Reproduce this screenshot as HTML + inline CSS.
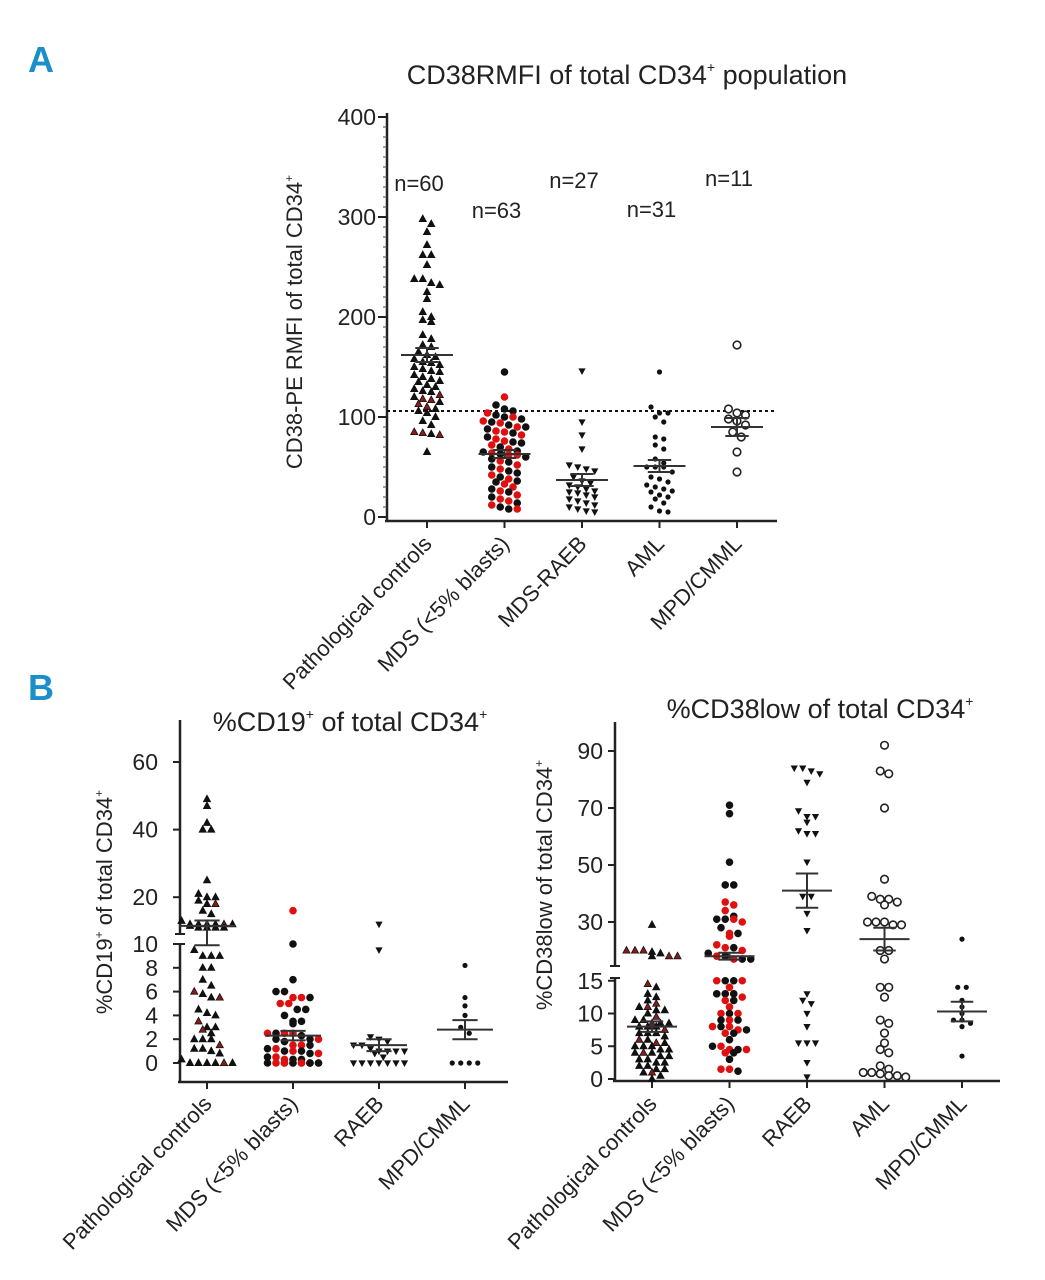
<!DOCTYPE html>
<html><head><meta charset="utf-8">
<style>
html,body{margin:0;padding:0;background:#fff;}
svg{display:block;font-family:"Liberation Sans Narrow","Liberation Sans",sans-serif;}
</style></head>
<body>
<svg id="fig" width="1045" height="1280" viewBox="0 0 1045 1280" xmlns="http://www.w3.org/2000/svg">
<text x="28" y="72" font-size="36" font-weight="bold" fill="#1a8fc9" font-family="Liberation Sans, sans-serif">A</text>
<text x="28" y="700" font-size="36" font-weight="bold" fill="#1a8fc9" font-family="Liberation Sans, sans-serif">B</text>
<text x="627" y="84" font-size="27" text-anchor="middle" fill="#222">CD38RMFI of total CD34<tspan font-size="14" dy="-12">+</tspan><tspan dy="12"> population</tspan></text>
<text x="350" y="731" font-size="27" text-anchor="middle" fill="#222">%CD19<tspan font-size="14" dy="-12">+</tspan><tspan dy="12"> of total CD34</tspan><tspan font-size="14" dy="-12">+</tspan></text>
<text x="820" y="718" font-size="27" text-anchor="middle" fill="#222">%CD38low of total CD34<tspan font-size="14" dy="-12">+</tspan></text>
<text transform="translate(302,322) rotate(-90)" font-size="22" text-anchor="middle" fill="#222">CD38-PE RMFI of total CD34<tspan font-size="12" dy="-9">+</tspan></text>
<text transform="translate(112,902) rotate(-90)" font-size="22" text-anchor="middle" fill="#222">%CD19<tspan font-size="12" dy="-9">+</tspan><tspan dy="9"> of total CD34</tspan><tspan font-size="12" dy="-9">+</tspan></text>
<text transform="translate(552,885) rotate(-90)" font-size="22" text-anchor="middle" fill="#222">%CD38low of total CD34<tspan font-size="12" dy="-9">+</tspan></text>
<g id="layer"></g>
</svg>
<script>
// ---------- Panel A data ----------
const catsA = ["Pathological controls","MDS (<5% blasts)","MDS-RAEB","AML","MPD/CMML"];
const nLabelsA = ["n=60","n=63","n=27","n=31","n=11"];
const ticksA = [0,100,200,300,400];
const cutoffA = 106;
const aPC = [298,293,285,272,262,262,252,238,238,234,232,225,218,205,200,197,195,182,178,172,170,165,162,160,158,155,154,152,150,148,146,145,142,140,138,136,135,132,130,128,126,125,122,120,118,117,115,113,110,108,106,104,100,96,92,85,84,83,82,65];
const aPCred = [0,0,0,0,0,0,0,0,0,0,0,0,0,0,0,0,0,0,0,0,0,0,0,0,0,0,0,0,0,0,0,0,0,0,0,0,0,0,0,0,0,0,1,0,1,1,0,1,1,0,0,0,0,0,0,1,1,0,1,0];
const aMDS = [145,120,112,108,106,104,102,100,100,98,96,95,94,92,90,90,88,86,85,84,82,80,78,76,75,74,72,70,68,66,65,64,63,62,62,60,58,56,55,52,50,48,46,44,42,40,38,36,35,33,30,28,26,25,22,20,18,16,14,12,10,8,8];
const aMDSred = [0,1,0,0,0,1,0,0,1,0,1,0,1,0,1,0,0,1,1,0,1,0,1,1,0,0,1,0,1,0,0,1,0,1,1,0,0,1,0,1,0,1,0,0,1,0,1,0,0,1,1,0,1,0,1,0,1,1,0,1,0,0,1];
const aRAEB = [146,95,82,68,52,50,48,46,40,36,34,32,30,28,26,25,24,22,20,18,16,14,12,10,8,6,5];
const aAML = [145,110,104,104,100,95,80,78,72,68,58,54,50,50,50,45,40,38,35,32,30,28,26,25,22,20,18,14,10,6,5];
const aMPD = [172,108,104,102,98,96,92,85,80,65,45];
const meanA = [162,63,37,51,90];
const semA = [7,4,6,6,9];

// ---------- Panel B1 data (%CD19+) ----------
const catsB1 = ["Pathological controls","MDS (<5% blasts)","RAEB","MPD/CMML"];
const ticksB1low = [0,2,4,6,8,10];
const ticksB1high = [20,40,60];
const b1PC = [49,47,42,40,40,25,21,20,20,19,18,18,16,15,13,12,12,12,12,12,12,11.5,11,11,11,11,9.5,9,9,9,8,8,7,6.5,6,5.8,5.5,5.5,4.5,4.2,4,3.5,3,3,2.8,2.5,2,2,2,1.5,1.2,1.2,1,0.8,0,0,0,0,0,0,0.3];
const b1PCred = [0,0,0,0,0,0,0,0,0,0,0,1,0,0,0,0,0,0,0,1,0,0,0,0,0,0,0,0,0,0,0,0,0,0,1,0,0,1,0,0,0,1,0,0,1,0,0,0,0,1,0,0,0,0,0,0,0,0,1,0,0];
const b1MDS = [16,10,7,6,6,5.5,5.5,5.5,5,5,4.5,4.5,4,3.5,3.5,3.3,2.5,2.5,2.5,2.5,2.3,2,2,2,1.8,1.5,1.5,1.5,1.2,1.2,1,1,1,0.8,0.8,0.5,0.5,0.3,0.3,0.3,0,0,0,0,0,0,0,0,0,0,0,0,0];
const b1MDSred = [1,0,0,0,0,1,1,0,1,1,0,0,0,0,0,0,1,0,1,1,0,0,1,0,0,1,1,0,0,1,0,1,0,0,1,0,1,1,0,0,1,1,0,1,0,1,1,0,0,1,0,1,0];
const b1RAEB = [12,9.5,2.2,2,1.8,1.5,1.5,1.2,1,1,1,1,0.8,0.5,0,0,0,0,0,0,0];
const b1MPD = [8.2,5.5,4.8,4,3,2.5,0,0,0,0];
const meanB1 = [11.5,2.3,1.5,2.8];
const semB1 = [1.6,0.4,0.5,0.8];

// ---------- Panel B2 data (%CD38low) ----------
const catsB2 = ["Pathological controls","MDS (<5% blasts)","RAEB","AML","MPD/CMML"];
const ticksB2low = [0,5,10,15];
const ticksB2high = [30,50,70,90];
const b2PC = [29,20,20,20,19.5,19,18,18,18,14.5,14,13,12.5,12,11.5,11,11,10.5,10.5,10,9.5,9,9,8.5,8.5,8.5,8,8,8,7.5,7,7,7,6.5,6,6,5.5,5.5,5,5,5,4.5,4.5,4,4,4,3.5,3.5,3,3,2.5,2.5,2,2,1.5,1.5,1,1,0.5,0];
const b2PCred = [0,1,1,1,0,0,1,1,0,1,0,0,0,0,1,0,1,0,0,0,1,0,0,1,0,0,0,0,0,1,0,0,0,0,1,0,1,0,0,0,0,0,0,0,1,0,0,0,0,0,0,0,0,0,0,0,0,1,0,0];
const b2MDS = [71,68,51,43,43,37,36,34,32,31,31,31,30,28,26,26,25,22,21,21,20,19,18,18,17,17,17,15,15,15,15,14,13,13,13,12.5,12,12,11,10,10,10,9,9,9,8,8,8,7.5,7.5,7,7,6,5,5,4.5,4.5,4.5,4,4,3,1.5,1.5,1.2];
const b2MDSred = [0,0,0,0,0,1,1,1,0,0,0,1,1,0,1,0,1,1,1,0,1,0,1,0,1,0,0,1,0,0,1,1,0,0,0,1,1,0,1,1,0,1,0,1,0,1,0,1,1,0,1,0,0,0,1,1,0,1,1,0,0,1,1,0];
const b2RAEB = [84,84,83,82,79,69,67,67,65,62,61,61,51,39,39,33,27,13,12,11.5,10,8,5.5,5.5,5.5,2.5,0.3];
const b2AML = [92,82,83,70,45,39,38,38,37,36,30,30,29,29,30,20,20,17,14,14,12.5,9,8.5,7,5.5,4.5,4,2,1.5,1,1,0.8,0.5,0.5,0.3];
const b2MPD = [24,14,14,12,11,10,9,9,8.5,8,3.5];
const meanB2 = [8,18,41,24,10.3];
const semB2 = [0.8,1.2,6,4,1.5];

// ---------- helpers ----------
const NS = "http://www.w3.org/2000/svg";
const layer = document.getElementById('layer');
function el(tag, attrs, parent){
  const e = document.createElementNS(NS, tag);
  for (const k in attrs) e.setAttribute(k, attrs[k]);
  (parent||layer).appendChild(e);
  return e;
}
const yA = v => 517 - v*1.0;
const xA = i => 427 + i*77.5;
const yB1 = v => v <= 10 ? 1063 - v*11.9 : 931 - (v-10)*3.38;
const xB1 = i => 207 + i*86;
const yB2 = v => v <= 15 ? 1079 - v*6.55 : 922 - (v-30)*2.85;
const xB2 = i => 652 + i*77.5;

function marker(shape, cx, cy, fill, g, s){
  s = s||1;
  let m;
  if (shape==='up') m = el('polygon',{points:`${cx},${cy-4*s} ${cx-3.6*s},${cy+2.6*s} ${cx+3.6*s},${cy+2.6*s}`,fill:fill,stroke:'#111','stroke-width':0.8},g);
  else if (shape==='down') m = el('polygon',{points:`${cx},${cy+4*s} ${cx-3.6*s},${cy-2.6*s} ${cx+3.6*s},${cy-2.6*s}`,fill:'#111'},g);
  else if (shape==='dot') m = el('circle',{cx,cy,r:3.8*s,fill},g);
  else if (shape==='small') m = el('circle',{cx,cy,r:2.6*s,fill:'#111'},g);
  else if (shape==='open') m = el('circle',{cx,cy,r:3.8*s,fill:'#fff',stroke:'#222','stroke-width':1.6},g);
  return m;
}
function swarm(vals, reds, cx, yf, shape, g, name, s){
  const pts = vals.map((v,i)=>({v, y:yf(v), red: reds? reds[i]:0}));
  pts.sort((a,b)=>a.y-b.y);
  const rows=[]; let cur=null;
  const maxN = 7;
  pts.forEach(p=>{ if(cur && p.y-cur[0].y < 6.5 && cur.length<maxN) cur.push(p); else {cur=[p]; rows.push(cur);} });
  let prevY = -1e9, shift = 0;
  rows.forEach(r=>{
    const n=r.length, sp=8.5;
    const ry = r[0].y;
    shift = (Math.abs(ry-prevY) < 3) ? (shift ? 0 : 4.2) : 0;
    prevY = ry;
    r.forEach((p,j)=>{
      const cxp = cx + (j-(n-1)/2)*sp + shift;
      const fill = p.red ? (shape==='up' ? '#8b1a1a' : '#e01010') : '#111';
      const m = marker(shape, cxp, p.y, fill, g, s);
      
      
    });
  });
}
function errbar(cx, yf, mean, sem, g, w, name){
  const gg = el('g',{stroke:'#333','stroke-width':2},g);
  
  
  el('line',{x1:cx-w,x2:cx+w,y1:yf(mean),y2:yf(mean)},gg);
  el('line',{x1:cx-w*0.45,x2:cx+w*0.45,y1:yf(mean+sem),y2:yf(mean+sem)},gg);
  el('line',{x1:cx-w*0.45,x2:cx+w*0.45,y1:yf(mean-sem),y2:yf(mean-sem)},gg);
  el('line',{x1:cx,x2:cx,y1:yf(mean+sem),y2:yf(mean-sem)},gg);
}
function xlabels(cats, xf, y0, g, prefix){
  cats.forEach((c,i)=>{
    const t = el('text',{transform:`translate(${xf(i)+6},${y0}) rotate(-46)`,'text-anchor':'end','font-size':22,fill:'#222'},g);
    t.textContent = c;
    
    
  });
}

// ---------- Panel A ----------
const gA = el('g',{});


el('line',{x1:387,y1:113,x2:387,y2:521,stroke:'#222','stroke-width':2.5},gA);
el('line',{x1:385,y1:521,x2:777,y2:521,stroke:'#222','stroke-width':2.5},gA);
for(let v=0; v<=400; v+=10){ el('line',{x1:383,x2:387,y1:yA(v),y2:yA(v),stroke:'#444','stroke-width':1},gA); }
ticksA.forEach(v=>{
  el('line',{x1:378,x2:387,y1:yA(v),y2:yA(v),stroke:'#222','stroke-width':2},gA);
  const t = el('text',{x:376,y:yA(v)+8,'text-anchor':'end','font-size':23,fill:'#222'},gA);
  t.textContent = v;
  
  
});
catsA.forEach((c,i)=> el('line',{x1:xA(i),x2:xA(i),y1:521,y2:528,stroke:'#222','stroke-width':2},gA));
const cut = el('line',{x1:387,x2:777,y1:yA(cutoffA),y2:yA(cutoffA),stroke:'#111','stroke-width':2,'stroke-dasharray':'3,3'},gA);


const nY = [183,210,180,209,178];
nLabelsA.forEach((n,i)=>{
  const t = el('text',{x:xA(i)-8,y:nY[i]+8,'text-anchor':'middle','font-size':22,fill:'#222'},gA);
  t.textContent = n;
  
  
});
swarm(aPC, aPCred, xA(0), yA, 'up', gA, 'a-pc');
swarm(aMDS, aMDSred, xA(1), yA, 'dot', gA, 'a-mds');
swarm(aRAEB, null, xA(2), yA, 'down', gA, 'a-raeb');
swarm(aAML, null, xA(3), yA, 'small', gA, 'a-aml');
swarm(aMPD, null, xA(4), yA, 'open', gA, 'a-mpd');
meanA.forEach((m,i)=>errbar(xA(i), yA, m, semA[i], gA, 26, 'a-mean-sem'));
xlabels(catsA, xA, 545, gA, 'a');

// ---------- Panel B1 ----------
const gB = el('g',{});


el('line',{x1:180,y1:720,x2:180,y2:934,stroke:'#222','stroke-width':2.5},gB);
el('line',{x1:180,y1:944,x2:180,y2:1082,stroke:'#222','stroke-width':2.5},gB);
el('line',{x1:175,y1:934,x2:185,y2:934,stroke:'#222','stroke-width':2},gB);
el('line',{x1:175,y1:944,x2:185,y2:944,stroke:'#222','stroke-width':2},gB);
el('line',{x1:178,y1:1082,x2:508,y2:1082,stroke:'#222','stroke-width':2.5},gB);
ticksB1low.concat(ticksB1high).forEach(v=>{
  const y = v===10 ? 944 : yB1(v);
  el('line',{x1:173,x2:180,y1:y,y2:y,stroke:'#222','stroke-width':2},gB);
  const t = el('text',{x:158,y:y+8,'text-anchor':'end','font-size':23,fill:'#222'},gB);
  t.textContent = v;
  
  
});
catsB1.forEach((c,i)=> el('line',{x1:xB1(i),x2:xB1(i),y1:1082,y2:1089,stroke:'#222','stroke-width':2},gB));
swarm(b1PC, b1PCred, xB1(0), yB1, 'up', gB, 'b1-pc');
swarm(b1MDS, b1MDSred, xB1(1), yB1, 'dot', gB, 'b1-mds');
swarm(b1RAEB, null, xB1(2), yB1, 'down', gB, 'b1-raeb');
swarm(b1MPD, null, xB1(3), yB1, 'small', gB, 'b1-mpd');
meanB1.forEach((m,i)=>errbar(xB1(i), yB1, m, semB1[i], gB, 28, 'b1-mean-sem'));
xlabels(catsB1, xB1, 1105, gB, 'b1');

// ---------- Panel B2 ----------
const gC = el('g',{});


el('line',{x1:615,y1:722,x2:615,y2:966,stroke:'#222','stroke-width':2.5},gC);
el('line',{x1:615,y1:978,x2:615,y2:1081,stroke:'#222','stroke-width':2.5},gC);
el('line',{x1:610,y1:966,x2:620,y2:966,stroke:'#222','stroke-width':2},gC);
el('line',{x1:610,y1:978,x2:620,y2:978,stroke:'#222','stroke-width':2},gC);
el('line',{x1:613,y1:1081,x2:1000,y2:1081,stroke:'#222','stroke-width':2.5},gC);
ticksB2low.concat(ticksB2high).forEach(v=>{
  const y = yB2(v);
  el('line',{x1:608,x2:615,y1:y,y2:y,stroke:'#222','stroke-width':2},gC);
  const t = el('text',{x:603,y:y+8,'text-anchor':'end','font-size':23,fill:'#222'},gC);
  t.textContent = v;
  
  
});
catsB2.forEach((c,i)=> el('line',{x1:xB2(i),x2:xB2(i),y1:1081,y2:1088,stroke:'#222','stroke-width':2},gC));
swarm(b2PC, b2PCred, xB2(0), yB2, 'up', gC, 'b2-pc');
swarm(b2MDS, b2MDSred, xB2(1), yB2, 'dot', gC, 'b2-mds');
swarm(b2RAEB, null, xB2(2), yB2, 'down', gC, 'b2-raeb');
swarm(b2AML, null, xB2(3), yB2, 'open', gC, 'b2-aml');
swarm(b2MPD, null, xB2(4), yB2, 'small', gC, 'b2-mpd');
meanB2.forEach((m,i)=>errbar(xB2(i), yB2, m, semB2[i], gC, 25, 'b2-mean-sem'));
xlabels(catsB2, xB2, 1105, gC, 'b2');
</script>
</body></html>
